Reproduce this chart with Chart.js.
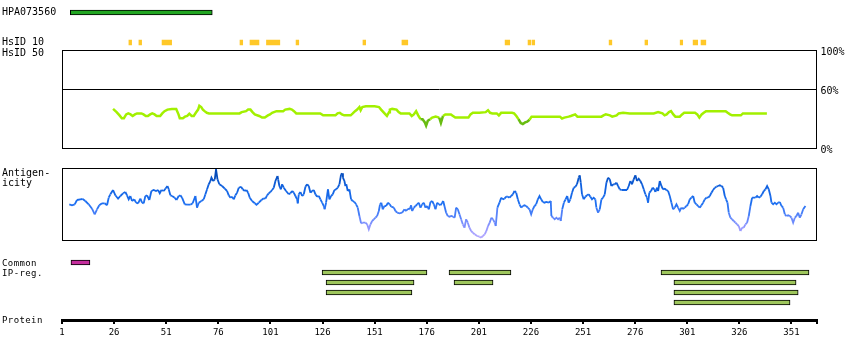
<!DOCTYPE html>
<html><head><meta charset="utf-8">
<script src="https://cdn.jsdelivr.net/npm/chart.js@4/dist/chart.umd.min.js"></script>
<style>
html,body{margin:0;padding:0;background:#fff;}
#wrap{position:relative;width:850px;height:360px;overflow:hidden;background:#fff;}
#wrap canvas{position:absolute;left:0;}
.lbl{position:absolute;left:2px;font-family:"DejaVu Sans Mono",monospace;font-size:10px;line-height:10px;color:#000;white-space:pre;}
.sm{font-size:9px;letter-spacing:0.4px;}
</style></head><body>
<div id="wrap">
  <canvas id="cHpa" width="850" height="25" style="top:0"></canvas>
  <canvas id="cHs10" width="850" height="15" style="top:35px"></canvas>
  <canvas id="cHsid" width="850" height="118" style="top:40px"></canvas>
  <canvas id="cAnt" width="850" height="90" style="top:160px"></canvas>
  <canvas id="cReg" width="850" height="56" style="top:252px"></canvas>
  <canvas id="cProt" width="850" height="50" style="top:300px"></canvas>
  <div class="lbl" style="top:7px">HPA073560</div>
  <div class="lbl" style="top:37px">HsID 10</div>
  <div class="lbl" style="top:47.5px">HsID 50</div>
  <div class="lbl" style="top:168px">Antigen-
icity</div>
  <div class="lbl sm" style="top:258px">Common
IP-reg.</div>
  <div class="lbl sm" style="top:315px">Protein</div>
</div>
<script>
// ---------------- data ----------------
const PROTEIN_MIN = 1;
const PROTEIN_MAX = 363;
const proteinTicks = [1, 26, 51, 76, 101, 126, 151, 176, 201, 226, 251, 276, 301, 326, 351];

const hpaName = 'HPA073560';
const hpaRange = [5.0, 73.1];

const hsid10Start = [33.1, 37.9, 49.0, 86.4, 91.2, 99.1, 113.3, 145.4, 164.1, 213.6, 224.6, 226.5, 263.5, 280.7, 297.6, 303.8, 307.6];
const hsid10End   = [34.4, 39.2, 53.6, 87.7, 95.5, 105.5, 114.6, 146.7, 166.9, 215.8, 225.9, 227.8, 264.8, 282.0, 298.8, 306.0, 309.9];

const hsidTicks = [0, 60, 100];
const hsidPos = [25.5, 27.2, 28.6, 29.7, 30.7, 31.8, 32.8, 33.9, 34.9, 36.0, 37.0, 39.1, 40.1, 41.2, 42.2, 43.3, 44.3, 45.4, 46.4, 48.1, 49.1, 50.2, 51.6, 53.7, 55.8, 56.9, 57.5, 59.0, 60.0, 61.1, 62.1, 63.2, 64.2, 65.2, 66.3, 66.9, 67.8, 68.6, 69.4, 70.5, 71.5, 86.2, 87.2, 89.3, 90.3, 91.4, 92.4, 93.5, 95.6, 97.0, 98.3, 99.8, 100.8, 101.8, 103.9, 107.1, 108.1, 110.2, 111.3, 112.3, 113.4, 124.9, 126.3, 132.2, 133.2, 134.3, 135.3, 136.4, 139.5, 140.5, 141.6, 142.6, 143.7, 144.3, 145.1, 146.8, 151.0, 153.1, 154.1, 155.2, 156.2, 156.9, 157.9, 158.3, 159.4, 161.5, 162.5, 163.5, 167.7, 168.8, 169.8, 170.9, 171.9, 173.0, 174.0, 175.1, 175.7, 176.5, 177.6, 178.6, 180.3, 182.0, 182.8, 183.8, 184.9, 187.6, 188.6, 189.7, 196.0, 197.0, 198.1, 201.2, 204.3, 205.4, 206.4, 207.5, 209.6, 210.6, 211.7, 216.9, 217.9, 219.0, 220.0, 221.1, 222.1, 223.2, 224.2, 225.3, 226.3, 239.9, 240.9, 242.0, 244.1, 245.1, 247.2, 248.3, 259.8, 260.8, 261.9, 263.9, 265.0, 267.1, 268.1, 270.2, 273.4, 284.9, 287.0, 289.1, 290.1, 291.1, 292.2, 293.2, 294.3, 295.3, 297.4, 298.5, 299.5, 304.7, 305.8, 306.8, 307.9, 308.9, 310.0, 319.4, 320.4, 321.5, 322.5, 326.7, 327.7, 339.2];
const hsidPct = [39.9, 36.6, 33.3, 30.4, 30.4, 34.3, 35.3, 34.3, 32.7, 34.3, 35.3, 35.3, 34.3, 32.7, 32.7, 34.3, 35.3, 34.3, 32.7, 32.7, 35.3, 37.6, 39.2, 39.9, 39.9, 34.3, 30.4, 30.4, 32.0, 32.7, 35.0, 32.7, 32.7, 35.9, 39.2, 43.1, 41.8, 39.2, 37.6, 35.9, 35.3, 35.3, 36.6, 37.6, 39.2, 39.2, 36.6, 34.3, 32.7, 31.0, 31.0, 33.3, 34.3, 35.9, 37.6, 37.6, 39.2, 39.9, 39.2, 37.6, 35.3, 35.3, 33.3, 33.3, 35.3, 35.9, 34.3, 33.3, 33.3, 35.3, 37.6, 39.2, 41.8, 38.6, 41.8, 42.5, 42.5, 41.8, 39.2, 36.6, 34.3, 32.7, 36.6, 39.2, 39.9, 39.2, 36.6, 35.3, 35.3, 32.7, 34.3, 37.6, 33.3, 29.4, 29.4, 26.1, 22.9, 27.8, 29.4, 31.0, 32.0, 31.0, 25.5, 32.7, 34.3, 34.3, 32.7, 31.0, 31.0, 34.3, 35.9, 35.9, 36.6, 38.6, 35.9, 35.3, 35.3, 33.3, 35.9, 35.9, 35.3, 32.7, 29.4, 25.5, 24.5, 26.1, 26.8, 28.8, 32.0, 32.0, 30.1, 31.0, 32.0, 32.7, 34.3, 32.0, 32.0, 33.3, 34.3, 33.3, 32.0, 33.3, 35.3, 35.9, 35.3, 35.3, 36.6, 35.3, 33.3, 34.3, 36.6, 37.6, 34.3, 32.0, 32.0, 34.3, 35.9, 35.9, 34.3, 31.0, 34.3, 35.9, 37.6, 37.6, 35.9, 34.3, 33.3, 33.3, 35.3, 35.3];

const antigenPos = [4.5, 5.8, 7.1, 8.2, 9.8, 10.9, 12.2, 13.8, 15.4, 16.7, 17.8, 18.9, 20.2, 21.5, 22.6, 23.4, 24.2, 25.5, 26.6, 27.9, 29, 30.3, 31.4, 32.2, 33, 33.8, 34.6, 35.7, 36.5, 37.5, 38.6, 39.4, 40.2, 41, 41.8, 42.9, 43.9, 45, 46.1, 47.1, 47.9, 48.7, 49.8, 50.6, 51.6, 52.2, 53, 53.8, 55.1, 55.9, 57, 57.8, 58.6, 59.9, 61, 62.6, 63.7, 65, 65.8, 66.6, 67.9, 69, 69.8, 70.6, 71.4, 72.2, 72.7, 73.5, 74.3, 74.9, 75.6, 76.5, 77.8, 79.1, 80.2, 81, 81.8, 82.6, 83.4, 84.2, 85, 85.8, 86.9, 87.7, 88.7, 89.5, 90.3, 91.1, 92.2, 93.5, 94.3, 95.4, 96.7, 97.8, 98.6, 99.4, 100.2, 101, 101.8, 102.6, 103.4, 104.4, 104.7, 105.3, 106, 106.6, 107.4, 108.5, 109.8, 110.6, 111.4, 112.2, 113, 113.8, 114.1, 114.6, 115.4, 116.2, 117, 117.8, 118.6, 119.4, 120.2, 121, 121.8, 122.6, 123.4,
 124.2, 125, 125.8, 126.6, 127, 127.7, 128.6, 129.3, 130.1, 130.9, 131.7, 132.5, 133.3, 134.1, 134.9, 135.4, 135.8, 136.5, 137, 137.4, 138.1, 138.9, 139.7, 140.5, 141.3, 142.1, 142.9, 143.7, 144.5, 145.3, 146.6, 147.4, 148.2, 149, 149.8, 150.6, 151.4, 152.2, 153, 153.6, 154.2, 154.9, 155.7, 156.5, 157.4, 158.2, 159, 160.2, 161, 161.8, 162.9, 164.2, 165.3, 166.1, 167, 167.8, 168.5, 169, 169.8, 170.6, 171.4, 172.2, 173, 173.8, 174.6, 175.4, 176.2, 177, 177.8, 178.6, 179.4, 180.2, 181, 181.8, 182.6, 183.4, 183.9, 184.5, 185.3, 186.1, 186.9, 187.8, 188.6, 189.4, 190.1, 190.9, 191.7, 192.5, 193.3, 194.1, 194.9, 195.7, 196.5, 197.3, 198.1, 199, 200.2, 201.3, 202.1, 202.9, 203.8, 204.6, 205.4, 206.2, 207, 207.8, 208.6, 209.1, 209.9, 210.9, 211.7, 212.5, 213.3, 214.1, 214.9, 215.7, 216.5, 217.3, 218.1, 218.9, 219.7, 220.5, 221.3, 222.1, 222.9, 223.7, 224.5, 225.3, 226.1, 226.9, 227.7, 228.5, 229.3, 230.1, 230.9, 231.7, 232.5, 233.3, 234.6, 235.5, 235.8, 236.6, 237.4, 238.2, 239, 239.8, 240.3, 241, 241.8, 242.6, 243.4,
 244.1, 244.9, 245.7, 246.5, 247.3, 248.1, 248.9, 249.4, 249.9, 250.5, 251.3, 252.1, 252.9, 253.7, 254.5, 255.3, 256.1, 256.9, 257.4, 258.2, 259, 259.8, 260.6, 261.4, 262.2, 263, 263.8, 264.6, 265.4, 266.2, 267, 267.8, 268.6, 269.4, 270.5, 272.1, 272.9, 273.7, 274.5, 275.3, 276.1, 276.9, 277.7, 278.5, 279.3, 280.1, 280.9, 281.7, 282.2, 282.8, 283.6, 284.4, 285.2, 285.7, 286.5, 287, 287.8, 288.6, 289.4, 290.2, 291, 291.8, 292.6, 293.4, 294.2, 295, 295.8, 296.6, 297.4, 298.2, 299, 299.8, 300.6, 301.4, 302.2, 303, 303.8, 304.6, 305.4, 306.2, 307, 307.8, 308.6, 309.4, 310.2, 311, 311.8, 312.6, 313.4, 314.2, 315, 315.8, 316.6, 317.4, 318.2, 319, 319.6, 320.3, 320.9, 321.7, 322.5, 323.3, 324.1, 324.9, 325.7, 326.5, 327.3, 328.1, 328.9, 329.7, 330.5, 331.3, 332.1, 332.9, 333.7, 334.5, 335.3, 336.1, 336.9, 337.7, 338.5, 339.3, 340.1, 340.9, 341.4, 342.2, 343, 343.8, 344.6, 345.4, 346.2, 347, 347.8, 348.6, 349.4, 350.2, 351, 351.8, 352.6, 353.4, 354.2, 355, 355.8, 356.6, 357.7];
const antigenScore = [35.7, 34.7, 35.7, 40, 40.7, 41, 39, 35.7, 31.3, 25.7, 30.7, 34.7, 36.7, 36.7, 34.7, 42.3, 45.7, 50, 44.7, 41.3, 44, 46.7, 48, 44.7, 40.7, 44, 39, 40.7, 37.3, 36.7, 41.3, 37.3, 36.7, 44, 44.7, 40, 49, 50, 49, 50, 46.7, 50, 49, 51.3, 54, 50.7, 44.7, 44, 42.3, 40, 44, 44.7, 42.3, 35.7, 35.3, 35.3, 36.7, 44, 32.3, 37.3, 39, 40.7, 45.7, 50.7, 55.7, 59, 62.3, 59, 60.7, 70.7, 60.7, 55.7, 54, 51.3, 49, 44.7, 42.3, 43.3, 40.7, 44.7, 47.3, 52.3, 53.3, 50.7, 49, 50, 47.3, 42.3, 39, 36.7, 35.3, 37.3, 40, 41.7, 41.3, 44.7, 46.7, 48, 50, 52.3, 59, 64, 60.7, 54, 50.7, 55.7, 52.3, 49, 45.7, 46.7, 49, 47.3, 44, 40.7, 36.7, 45.7, 48, 44, 45.7, 53.3, 55.7, 54, 47.3, 49, 50, 45.7, 43.3,
 44, 40.7, 37.3, 34, 30.7, 37.3, 50.7, 40.7, 44, 45.7, 50, 50.7, 52.3, 55.7, 65.7, 66.7, 62.3, 59, 54, 55.7, 49, 50.7, 40.7, 39, 38, 35.7, 32.3, 24, 16.7, 17.3, 17.3, 15.7, 10.7, 15.7, 19, 20.7, 22.3, 24, 29, 35.7, 37.3, 30.7, 34, 34, 37.3, 35.7, 33.3, 32.3, 29, 27.3, 26.7, 27.3, 30.7, 29, 31.3, 30.7, 34.7, 29, 32.3, 34, 35.7, 37.3, 32.3, 35.7, 37.3, 32.3, 34, 30.7, 38, 39, 35.7, 30.7, 37.3, 35.7, 34.7, 37.3, 39, 34, 27.3, 24, 23.3, 24, 23.3, 22.3, 32.3, 30.7, 25.7, 20.7, 15.7, 12.3, 20.7, 17.3, 12.3, 9, 7.3, 5.7, 4, 3.3, 2.3, 4, 5.7, 9, 14, 17.3, 22.3, 20.7, 17.3, 14, 32.3, 37.3, 42.3, 40.7, 41.3, 43.3, 43.3, 42.3, 44, 45.7, 49, 47.3, 40.7, 35.7, 32.3, 34, 34.7, 34, 32.3, 30.7, 25.7, 30.7, 34, 35.7, 40.7, 44, 40.7, 38, 37.3, 38, 37.3, 39, 24, 22.3, 20.7, 22.3, 20.7, 22.3, 19, 30.7, 37.3, 40.7, 44,
 37.3, 40.7, 47.3, 52.3, 53.3, 55.7, 62.3, 64.7, 57.3, 45.7, 40.7, 43.3, 44.7, 45.7, 43.3, 40.7, 42.3, 40.7, 32.3, 27.3, 30.7, 40.7, 42.3, 45.7, 57.3, 62.3, 60.7, 54, 55.7, 55.7, 57.3, 54, 50.7, 50, 50, 50, 54, 59, 55.7, 60.7, 64.7, 59, 61.3, 59, 55.7, 50.7, 45.7, 42.3, 37.3, 47.3, 49, 52.3, 50.7, 48, 52.3, 49, 59, 54, 50.7, 51.3, 50, 49, 44, 37.3, 30.7, 32.3, 35.7, 32.3, 29, 32.3, 31.3, 32.3, 34, 35.7, 40.7, 42.3, 44, 37.3, 35.7, 34, 32.3, 34.7, 37.3, 40.7, 42.3, 42.3, 44, 47.3, 50, 52.3, 53.3, 54, 54.7, 54, 52.3, 44, 40.7, 37.3, 27.3, 22.3, 20.7, 19, 17.3, 15.7, 14, 9, 12.3, 12.3, 15.7, 17.3, 24, 34, 42.3, 42.3, 42.3, 44, 42.3, 43.3, 45.7, 49, 50.7, 54, 50.7, 44, 37.3, 35.7, 37.3, 35.7, 37.3, 38, 34, 32.3, 25.7, 24, 24.7, 24, 22.3, 17.3, 22.3, 24, 27.3, 22.3, 25.7, 30.7, 34];
const ANTIGEN_MAX = 72;

const regionRows = ['Common', 'IP-reg.', 'IP row 2', 'IP row 3', 'IP row 4'];
const commonStart = [5.3];
const commonEnd = [14.4];
const ipRow   = [1, 1, 1, 2, 2, 2, 3, 3, 4];
const ipStart = [125.8, 186.7, 288.4, 127.7, 189.1, 294.6, 127.7, 294.6, 294.6];
const ipEnd   = [176.1, 216.4, 359.4, 169.9, 207.8, 353.2, 168.9, 354.2, 350.3];

// ---------------- helpers ----------------
const MONO = '"DejaVu Sans Mono", monospace';
const PAD_L = 62, PAD_R = 33.5;
const base = {
  responsive: false, animation: false, devicePixelRatio: 1,
  plugins: { legend: { display: false }, tooltip: { enabled: false } },
  events: []
};
function xHidden() { return { type: 'linear', min: PROTEIN_MIN, max: PROTEIN_MAX, display: false }; }
const frame = {
  id: 'frame',
  afterDatasetsDraw(chart) {
    const a = chart.chartArea, ctx = chart.ctx;
    const l = Math.round(a.left), t = Math.round(a.top), r = Math.round(a.right), b = Math.round(a.bottom);
    ctx.save(); ctx.strokeStyle = '#000'; ctx.lineWidth = 1;
    ctx.strokeRect(l + 0.5, t + 0.5, r - l - 1, b - t);
    ctx.restore();
  }
};
function lerpColor(stops, v) {
  if (v <= stops[0][0]) return stops[0][1];
  for (let i = 1; i < stops.length; i++) {
    if (v <= stops[i][0]) {
      const [v0, c0] = stops[i - 1], [v1, c1] = stops[i];
      const f = (v - v0) / (v1 - v0);
      return c0.map((c, k) => Math.round(c + (c1[k] - c) * f));
    }
  }
  return stops[stops.length - 1][1];
}
const antStops = [[0, [185, 170, 255]], [12, [150, 152, 255]], [24, [85, 130, 250]], [36, [30, 112, 242]], [52, [16, 98, 225]], [72, [0, 66, 170]]];

// ---------------- HPA bar ----------------
new Chart(document.getElementById('cHpa'), {
  type: 'bar',
  data: { labels: [hpaName], datasets: [{ data: [hpaRange], backgroundColor: '#22A622', borderColor: '#000', borderWidth: 1, borderSkipped: false, barThickness: 5 }] },
  options: Object.assign({}, base, { indexAxis: 'y', layout: { padding: { left: PAD_L, right: PAD_R, top: 0, bottom: 0 } },
    scales: { x: xHidden(), y: { display: false } } })
});

// ---------------- HsID 10 markers ----------------
new Chart(document.getElementById('cHs10'), {
  type: 'bar',
  data: { labels: ['HsID 10'], datasets: [{ data: hsid10Start.map((s, i) => ({ y: 'HsID 10', x: [s, hsid10End[i]] })), backgroundColor: '#FFC828', borderWidth: 0, barThickness: 5 }] },
  options: Object.assign({}, base, { indexAxis: 'y', layout: { padding: { left: PAD_L, right: PAD_R, top: 0, bottom: 0 } },
    scales: { x: xHidden(), y: { display: false } } })
});

// ---------------- HsID 50 line ----------------
new Chart(document.getElementById('cHsid'), {
  type: 'line',
  data: { datasets: [{ data: hsidPos.map((x, i) => ({ x, y: hsidPct[i] })), borderWidth: 2.5, borderColor: 'rgb(162,240,0)', pointRadius: 0, tension: 0,
    segment: { borderColor: c => ((c.p0.parsed.y + c.p1.parsed.y) / 2 < 29.5 ? 'rgb(104,188,16)' : 'rgb(162,240,0)') } }] },
  options: Object.assign({}, base, {
    layout: { padding: { left: PAD_L, right: 0, top: 8, bottom: 8 } },
    scales: {
      x: xHidden(),
      y: { position: 'right', min: 0, max: 100,
        afterBuildTicks: s => { s.ticks = hsidTicks.map(v => ({ value: v })); },
        afterFit: s => { s.width = PAD_R; },
        grid: { drawTicks: false, lineWidth: 1, color: c => (c.tick && c.tick.value === 60 ? '#000' : 'rgba(0,0,0,0)') },
        border: { display: false },
        ticks: { padding: 4, labelOffset: 2, color: '#000', font: { family: MONO, size: 10 }, callback: v => v + '%' } }
    }
  }),
  plugins: [frame]
});

// ---------------- Antigenicity ----------------
new Chart(document.getElementById('cAnt'), {
  type: 'line',
  data: { datasets: [{ data: antigenPos.map((x, i) => ({ x, y: antigenScore[i] })), borderWidth: 1.8, pointRadius: 0, tension: 0,
    borderColor: 'rgb(30,112,242)',
    segment: { borderColor: c => { const v = (c.p0.parsed.y + c.p1.parsed.y) / 2; const k = lerpColor(antStops, v); return `rgb(${k[0]},${k[1]},${k[2]})`; } } }] },
  options: Object.assign({}, base, {
    layout: { padding: { left: PAD_L, right: PAD_R, top: 8, bottom: 10 } },
    scales: { x: xHidden(), y: { display: false, min: 0, max: ANTIGEN_MAX } }
  }),
  plugins: [frame]
});

// ---------------- Common / IP regions ----------------
new Chart(document.getElementById('cReg'), {
  type: 'bar',
  data: { labels: regionRows, datasets: [
    { data: commonStart.map((s, i) => ({ y: regionRows[0], x: [s, commonEnd[i]] })), backgroundColor: '#C42C9C', borderColor: '#000', borderWidth: 1, borderSkipped: false, barThickness: 5, grouped: false },
    { data: ipStart.map((s, i) => ({ y: regionRows[ipRow[i]], x: [s, ipEnd[i]] })), backgroundColor: '#9EC65C', borderColor: '#000', borderWidth: 1, borderSkipped: false, barThickness: 5, grouped: false }
  ] },
  options: Object.assign({}, base, { indexAxis: 'y', layout: { padding: { left: PAD_L, right: PAD_R, top: 5.5, bottom: 0.5 } },
    scales: { x: xHidden(), y: { display: false } } })
});

// ---------------- Protein axis ----------------
new Chart(document.getElementById('cProt'), {
  type: 'line',
  data: { datasets: [{ data: [] }] },
  options: Object.assign({}, base, {
    layout: { padding: { left: PAD_L, right: PAD_R, top: 0, bottom: 0 } },
    scales: {
      x: { type: 'linear', min: PROTEIN_MIN, max: PROTEIN_MAX, position: 'bottom',
        afterBuildTicks: s => { s.ticks = proteinTicks.concat([PROTEIN_MAX]).map(v => ({ value: v })); },
        afterFit: s => { s.height = 30; },
        border: { display: true, width: 3, color: '#000' },
        grid: { display: true, drawOnChartArea: false, drawTicks: true, tickLength: 4, lineWidth: 2, color: '#000' },
        ticks: { autoSkip: false, maxRotation: 0, padding: 3, color: '#000', font: { family: MONO, size: 9 },
          callback: v => (proteinTicks.includes(v) ? String(v) : '') } },
      y: { display: false }
    }
  })
});
</script>
</body></html>
